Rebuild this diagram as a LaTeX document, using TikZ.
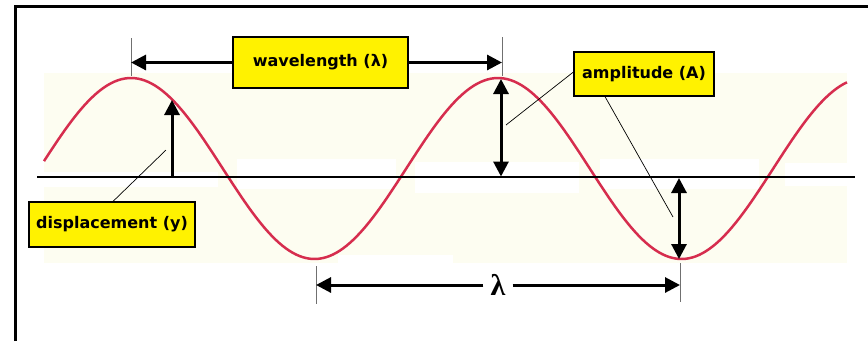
\documentclass[tikz,border=0pt]{standalone}
\usepackage{fontspec}
\newfontfamily\boxfont{DejaVu Sans}
\newfontfamily\lamfont{Liberation Serif}
\usepackage{xcolor}
\usetikzlibrary{arrows.meta}
\definecolor{wavered}{HTML}{D62D4E}
\definecolor{cream}{HTML}{FDFDF1}
\definecolor{tickgrey}{HTML}{707070}

\tikzset{
  labelbox/.style={draw=black,line width=1.2pt,fill=yellow,inner sep=0pt,
    font=\boxfont\bfseries\fontsize{16}{18}\selectfont},
  dimarrow/.style={line width=3pt,-{Triangle[length=15pt,width=15pt]}},
  twoarrow/.style={line width=3pt,{Triangle[length=15pt,width=15pt]}-{Triangle[length=15pt,width=15pt]}},
  leader/.style={line width=0.7pt},
  tickline/.style={tickgrey,line width=1pt},
}

\begin{document}
\begin{tikzpicture}[x=1pt,y=-1pt]
\useasboundingbox (0,0) rectangle (868,341);
% background of the pasted wave picture
\fill[cream] (44,73) rectangle (847,263);
\fill[white] (43,172) rectangle (218,187);
\fill[white] (237,159) rectangle (396,189);
\fill[white] (415,162) rectangle (579,193);
\fill[white] (600,159) rectangle (759,189);
\fill[white] (785,163) rectangle (847,186);
\fill[white] (338,255) rectangle (453,263);
% frame
\draw[line width=3pt] (15,341) -- (15,6.5) -- (868,6.5);
% the wave and its axis
\draw[wavered,line width=2.5pt] plot[domain=44:847,samples=240]
  (\x,{168.5-90.5*cos((\x-131)/367*360)});
\draw[line width=2pt] (37,176.5) -- (855,176.5);

% points on the wave
\coordinate (crestA) at (131,78);
\coordinate (crestB) at (502,78);
\coordinate (troughA) at (316,259);
\coordinate (troughB) at (680,259);
\coordinate (axisA) at (172,176.5);
\coordinate (tipA) at (172,100);
\coordinate (axisB) at (501,176.5);
\coordinate (axisC) at (679,178);
\coordinate (ptY) at (166,150);
\coordinate (ptAa) at (506,125);
\coordinate (ptAb) at (673,217);

% ticks
\draw[tickline] (131,38) -- (131,76);
\draw[tickline] (502,37) -- (502,76);
\draw[tickline] (316,266) -- (316,304);
\draw[tickline] (680,263) -- (680,302);

% labels
\node[labelbox,minimum width=175pt,minimum height=51pt] (wl) at (320.5,62.5) {wavelength (λ)};
\node[labelbox,minimum width=140pt,minimum height=44pt] (amp) at (644,74) {amplitude (A)};
\node[labelbox,minimum width=166pt,minimum height=45pt] (disp) at (112,224.5) {displacement (y)};
\node[font=\lamfont\bfseries\fontsize{30}{32}\selectfont,inner xsep=7pt,inner ysep=0pt] (lam) at (498,285) {λ};

% arrows
\draw[dimarrow] (wl.west) -- (wl.west -| crestA);
\draw[dimarrow] (wl.east) -- (wl.east -| crestB);
\draw[dimarrow] (lam.west) -- (lam.west -| troughA);
\draw[dimarrow] (lam.east) -- (lam.east -| troughB);
\draw[dimarrow] (axisA) -- (tipA);
\draw[twoarrow] (501,79) -- (axisB);
\draw[twoarrow] (axisC) -- (679,259);

% leaders
\draw[leader] (disp.north) ++(1,0) -- (ptY);
\draw[leader] (amp.west) ++(0,-2) -- (ptAa);
\draw[leader] (amp.south) ++(-39,0) -- (ptAb);
\end{tikzpicture}
\end{document}
